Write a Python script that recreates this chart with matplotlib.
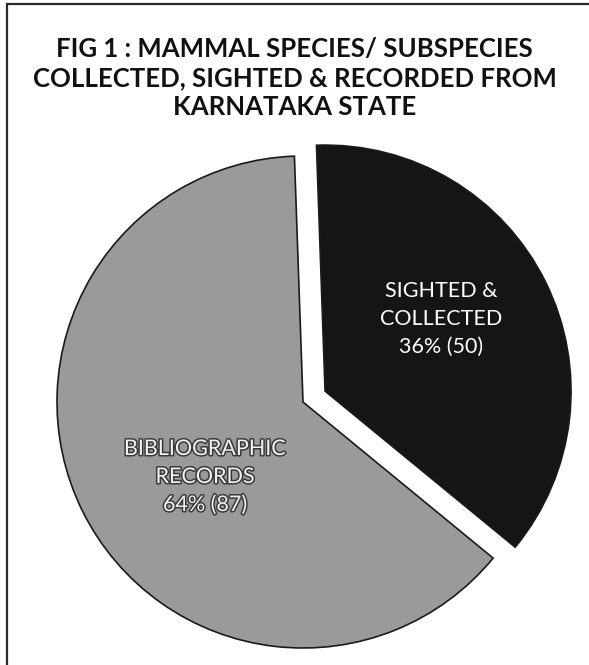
import matplotlib
matplotlib.use("Agg")
import matplotlib.pyplot as plt
import matplotlib.patches as mpatches
import matplotlib.patheffects as pe

# ---- data ----
categories = ["SIGHTED &\nCOLLECTED", "BIBLIOGRAPHIC\nRECORDS"]
counts = [50, 87]
colors = ["#151515", "#9a9a9a"]
explode = [0.1, 0.0]
title_lines = ["FIG 1 : MAMMAL SPECIES/ SUBSPECIES",
               "COLLECTED, SIGHTED & RECORDED FROM",
               "KARNATAKA STATE"]

W, H = 589, 665
fig = plt.figure(figsize=(W / 100, H / 100), dpi=100)
fig.patch.set_facecolor("white")

# pie centre / radius in pixels (used to set axis limits)
cx, cy, R = 303.0, 402.0, 246.0
ax = fig.add_axes([0, 0, 1, 1])
ax.set_xlim((0 - cx) / R, (W - cx) / R)
ax.set_ylim((cy - H) / R, (cy - 0) / R)
ax.set_aspect("auto")
ax.axis("off")

total = sum(counts)
wedges, _ = ax.pie(counts, colors=colors, explode=explode, startangle=92,
                   counterclock=False, radius=1.0,
                   wedgeprops=dict(linewidth=1.2, edgecolor="#1a1a1a"))
ax.set_xlim((0 - cx) / R, (W - cx) / R)
ax.set_ylim((cy - H) / R, (cy - 0) / R)

def px(x, y):
    return (x - cx) / R, (cy - y) / R

font = "Lato"

# title
for line, base in zip(title_lines, [57, 86, 115]):
    fig.text(0.5, 1 - base / H, line, ha="center", va="baseline",
             fontsize=18.5, fontweight="bold", family=font, color="#111111")

# labels
pcts = [round(100 * c / total) for c in counts]
lab_pos = [(441, [297, 325, 353]), (205, [455, 483, 511])]
for i, (cat, c, p) in enumerate(zip(categories, counts, pcts)):
    lines = cat.split("\n") + [f"{p}% ({c})"]
    xp, bases = lab_pos[i]
    for ln, b in zip(lines, bases):
        x, y = px(xp, b)
        t = ax.text(x, y, ln, ha="center", va="baseline", fontsize=15.5,
                    family=font, color="white" if i == 0 else "#f2f2f2")
        if i == 1:
            t.set_path_effects([pe.withStroke(linewidth=2.2, foreground="#3a3a3a")])

# figure border (left and top visible; right/bottom run off the image)
border = mpatches.Rectangle((7 / W, -0.2), 1.5, (H - 4) / H + 0.2,
                            transform=fig.transFigure, fill=False,
                            edgecolor="#2a2a2a", linewidth=1.6)
fig.patches.append(border)

fig.savefig("out.png", dpi=100, facecolor="white")
